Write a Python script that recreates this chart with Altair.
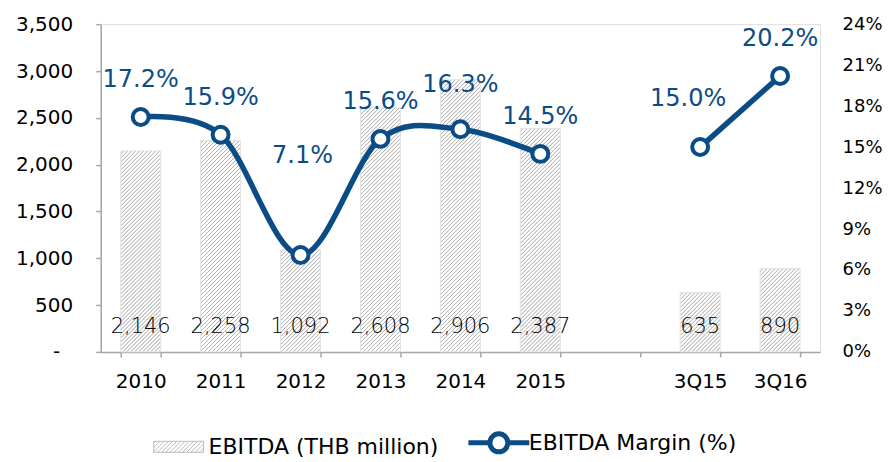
import altair as alt
import pandas as pd

# ---------------- data ----------------
categories = ["2010", "2011", "2012", "2013", "2014", "2015", "3Q15", "3Q16"]
ebitda = [2146, 2258, 1092, 2608, 2906, 2387, 635, 890]
margin = [17.2, 15.9, 7.1, 15.6, 16.3, 14.5, 15.0, 20.2]
segments = ["Year", "Year", "Year", "Year", "Year", "Year", "Quarter", "Quarter"]
x_domain = ["2010", "2011", "2012", "2013", "2014", "2015", " ", "3Q15", "3Q16"]
left_ticks = [0, 500, 1000, 1500, 2000, 2500, 3000, 3500]
right_ticks = [0, 3, 6, 9, 12, 15, 18, 21, 24]
series_names = ["EBITDA (THB million)", "EBITDA Margin (%)"]

df = pd.DataFrame({"cat": categories, "ebitda": ebitda, "margin": margin, "seg": segments})
legend_df = pd.DataFrame({"series": series_names})

# ---------------- style ----------------
BLUE = "#0b4c86"
FONT = "DejaVu Sans"
W, H = 720, 328
Y_MAX = 3500
BAR_W = 40.0
HATCH = "#b4b4b4"
AXIS_GRAY = "#a6a6a6"


def hatch_fill(value, period=4.0):
    """Diagonal hatch as a striped linear gradient (stripes follow x + y = const)."""
    h = max(value / Y_MAX * H, 1.0)
    r = h / BAR_W
    a = (1 + r) / (1 + r * r)
    total = BAR_W + h
    p = period / total
    profile = [(0.0, "#ffffff"), (0.54, "#ffffff"), (0.69, HATCH), (0.82, HATCH), (1.0, "#ffffff")]
    stops = []
    k = 0
    while k * p < 1:
        s = k * p
        for frac, col in profile:
            off = s + frac * p
            if off > 1:
                break
            stops.append({"offset": round(off, 5), "color": col})
        k += 1
    return {"gradient": "linear", "x1": 0, "y1": 0, "x2": round(a, 5), "y2": round(r * a, 5), "stops": stops}


# legend symbol paths (unit = 5px for symbolSize 100)
def swatch_path():
    hw, hh, step = 5.0, 1.1, 0.84
    parts = [f"M{-hw},{-hh}H{hw}V{hh}H{-hw}Z"]
    c = -hw - hh + step / 2
    while c < hw + hh:
        x1, y1 = c - hh, hh
        x2, y2 = c + hh, -hh
        if x1 < -hw:
            x1, y1 = -hw, c + hw
        if x2 > hw:
            x2, y2 = hw, c - hw
        parts.append(f"M{x1:.2f},{y1:.2f}L{x2:.2f},{y2:.2f}")
        c += step
    return "".join(parts)


LINE_SYMBOL = "M-6.1,0H-1.8M1.8,0H6.1M1.8,0A1.8,1.8,0,1,1,-1.8,0A1.8,1.8,0,1,1,1.8,0Z"

# ---------------- scales / axes ----------------
x_scale = alt.Scale(domain=x_domain, paddingInner=0.5, paddingOuter=0.25)
x_axis = alt.Axis(
    title=None, labelAngle=0, tickBand="extent", tickSize=5, tickWidth=1.5,
    tickColor=AXIS_GRAY, domainColor=AXIS_GRAY, domainWidth=1.5,
    labelFont=FONT, labelFontSize=20, labelColor="#000000", labelPadding=15,
)
X = alt.X("cat:N", scale=x_scale, axis=x_axis, sort=None)

yl_scale = alt.Scale(domain=[0, Y_MAX], nice=False)
yl_axis = alt.Axis(
    title=None, values=left_ticks, grid=False, tickSize=5, tickWidth=1.5,
    tickColor=AXIS_GRAY, domainColor=AXIS_GRAY, domainWidth=1.5,
    labelFont=FONT, labelFontSize=20, labelColor="#000000",
    labelPadding={"condition": {"test": "datum.value == 0", "value": 36}, "value": 23},
    labelExpr="datum.value == 0 ? '-' : format(datum.value, ',')",
)
yr_scale = alt.Scale(domain=[0, 24], nice=False)
yr_axis = alt.Axis(
    title=None, orient="right", values=right_ticks, grid=False, ticks=False, tickSize=0,
    domain=False, labelFont=FONT, labelFontSize=18, labelColor="#000000", labelPadding=22,
    labelExpr="datum.value + '%'",
)

# ---------------- bars ----------------
bar_conditions = [
    {"test": f"datum.cat === '{c}'", "value": hatch_fill(v)} for c, v in zip(categories, ebitda)
]
bars = alt.Chart(df).mark_bar(stroke="#e2e2e2", strokeWidth=1).encode(
    x=X,
    y=alt.Y("ebitda:Q", scale=yl_scale, axis=yl_axis),
    fill=alt.FillValue(value="#e8e8e8", condition=bar_conditions),
)
bar_text = alt.Chart(df).mark_text(
    font=FONT, fontSize=21, fontWeight=200, color="#000000", baseline="middle", dy=-25
).encode(
    x=X,
    y=alt.Y(datum=0, scale=yl_scale, axis=yl_axis),
    text=alt.Text("ebitda:Q", format=","),
)
bar_group = alt.layer(bars, bar_text)

# ---------------- margin line ----------------
YR = alt.Y("margin:Q", scale=yr_scale, axis=yr_axis)
line = alt.Chart(df).mark_line(color=BLUE, strokeWidth=5.5, interpolate="cardinal").encode(
    x=X, y=YR, detail="seg:N"
)
points = alt.Chart(df).mark_point(
    filled=True, fill="#ffffff", stroke=BLUE, strokeWidth=4, size=254, opacity=1
).encode(x=X, y=YR)

label_offsets = {"2012": (2, -99), "2014": (0, -44), "3Q15": (-12, -48)}
label_layers = []
default_cats = [c for c in categories if c not in label_offsets]
base_label = alt.Chart(df).transform_calculate(lbl="format(datum.margin, '.1f') + '%'")
label_layers.append(
    base_label.transform_filter(alt.FieldOneOfPredicate(field="cat", oneOf=default_cats))
    .mark_text(font=FONT, fontSize=24, color=BLUE, baseline="middle", dy=-37)
    .encode(x=X, y=YR, text="lbl:N")
)
for c, (ddx, ddy) in label_offsets.items():
    label_layers.append(
        base_label.transform_filter(alt.datum.cat == c)
        .mark_text(font=FONT, fontSize=24, color=BLUE, baseline="middle", dx=ddx, dy=ddy)
        .encode(x=X, y=YR, text="lbl:N")
    )
line_group = alt.layer(line, points, *label_layers)

# ---------------- legend ----------------
leg = alt.Legend(
    title=None, orient="none", legendX=67, legendY=408, direction="horizontal",
    symbolSize=100, symbolOpacity=1, symbolFillColor="#ffffff",
    labelFont=FONT, labelFontSize=22, labelColor="#000000", labelOffset=19,
    columnPadding=18.5, labelLimit=400, padding=0,
)
legend_layer = alt.Chart(legend_df).mark_point(filled=True, size=0).encode(
    fill=alt.Fill("series:N", scale=alt.Scale(domain=series_names, range=["#ffffff", "#ffffff"]), legend=leg),
    stroke=alt.Stroke("series:N", scale=alt.Scale(domain=series_names, range=["#bcbcbc", BLUE]), legend=leg),
    shape=alt.Shape("series:N", scale=alt.Scale(domain=series_names, range=[swatch_path(), LINE_SYMBOL]), legend=leg),
    strokeWidth=alt.StrokeWidth(
        "series:N", scale=alt.Scale(type="point", domain=series_names, range=[1, 5], padding=0), legend=leg
    ),
)

chart = (
    alt.layer(bar_group, line_group, legend_layer)
    .resolve_scale(y="independent")
    .properties(width=W, height=H, padding={"left": 6.8, "top": 6, "right": 0, "bottom": 0})
    .configure_view(stroke=None)
    .configure(background="#ffffff")
)

chart.save("out.html", embed_options={"renderer": "svg", "actions": False})
